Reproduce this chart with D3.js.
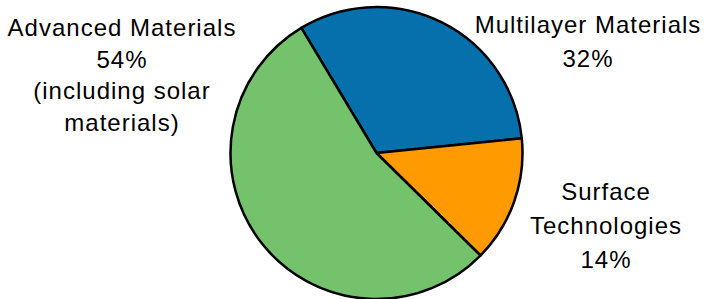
<!DOCTYPE html>
<html>
<head>
<meta charset="utf-8">
<script src="https://cdn.jsdelivr.net/npm/d3@7"></script>
<style>
  body { margin: 0; background: #fff; }
  text { font-family: "Liberation Sans", Arial, sans-serif; font-size: 24px; fill: #000; letter-spacing: 1px; }
</style>
</head>
<body>
<div id="chart"></div>
<script>
// data
var categories = ["Multilayer Materials", "Surface Technologies", "Advanced Materials"];
var shares = [32, 14, 54];
var colors = ["#0570AB", "#FF9A00", "#74C26C"];
var labelLines = [
    ["Multilayer Materials", "32%"],
    ["Surface", "Technologies", "14%"],
    ["Advanced Materials", "54%", "(including solar", "materials)"]
];

// layout
var width = 716, height = 299;
var cx = 376.5, cy = 153, radius = 146;
var startDeg = -31;
var labelPos = [
    {x: 588, y: 33, dy: 34},
    {x: 606, y: 200, dy: 34},
    {x: 122, y: 36, dy: 31.5}
];

var svg = d3.select("#chart").append("svg").attr("width", width).attr("height", height);

var pie = d3.pie()
    .sort(null)
    .startAngle(startDeg * Math.PI / 180)
    .endAngle((startDeg + 360) * Math.PI / 180)
    .value(function (d) { return d; });

var arc = d3.arc().innerRadius(0).outerRadius(radius);

var g = svg.append("g").attr("transform", "translate(" + cx + "," + cy + ")");

g.selectAll("path")
    .data(pie(shares))
    .enter().append("path")
    .attr("d", arc)
    .attr("fill", function (d, i) { return colors[i]; })
    .attr("stroke", "#000")
    .attr("stroke-width", 2.5)
    .attr("stroke-linejoin", "round");

// labels
labelLines.forEach(function (lines, i) {
    var t = svg.append("text")
        .attr("text-anchor", "middle")
        .attr("x", labelPos[i].x)
        .attr("y", labelPos[i].y);
    lines.forEach(function (line, j) {
        t.append("tspan")
            .attr("x", labelPos[i].x)
            .attr("dy", j == 0 ? 0 : labelPos[i].dy)
            .text(line);
    });
});
</script>
</body>
</html>
